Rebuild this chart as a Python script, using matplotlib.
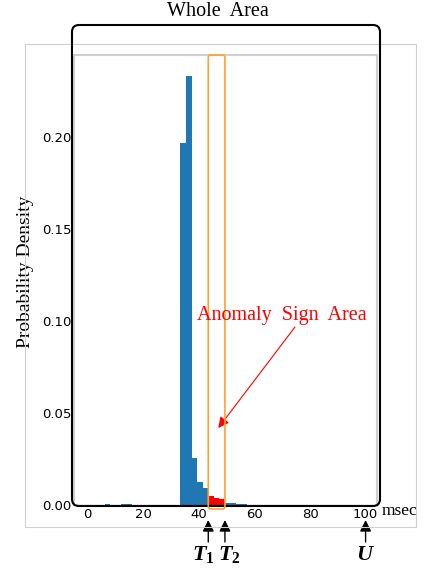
import matplotlib
matplotlib.use("Agg")
from matplotlib import pyplot as plt
from matplotlib.patches import FancyBboxPatch, Rectangle

plt.rcParams['mathtext.fontset'] = 'custom'
plt.rcParams['mathtext.it'] = 'Liberation Serif:italic:bold'
plt.rcParams['mathtext.rm'] = 'Liberation Serif:bold'

# histogram bins (left edge, msec) and probability density
BIN_WIDTH = 2.0
bin_left = [6.2, 12.0, 14.0, 33.4, 35.4, 37.4, 39.4, 41.4, 43.4, 45.4, 47.4,
            49.4, 51.4, 53.4, 55.4]
density = [0.0005, 0.0006, 0.0008, 0.197, 0.233, 0.0255, 0.0127, 0.009,
           0.0049, 0.004, 0.003, 0.0011, 0.001, 0.0006, 0.0004]

T1, T2, U = 43.4, 49.4, 100.0
marker_labels = [r'$T_1$', r'$T_2$', r'$U$']
label_shift = [-4.5, 4.5, -0.5]   # px offset of label vs arrow

xticks = [0, 20, 40, 60, 80, 100]
yticks = [0.0, 0.05, 0.10, 0.15, 0.20]

W, H = 425, 571
fig = plt.figure(figsize=(W / 100, H / 100), dpi=100)
ax = fig.add_axes([74 / W, (H - 505) / H, 303 / W, 450 / H])

colors = ['red' if T1 - 0.01 <= x < T2 - 0.01 else '#1f77b4' for x in bin_left]
ax.bar(bin_left, density, width=BIN_WIDTH, align='edge', color=colors, linewidth=0)

ax.set_xlim(-4.9, 104.1)
ax.set_ylim(0, 0.2446)
ax.set_xticks(xticks)
ax.set_yticks(yticks)
ax.set_yticklabels(['%.2f' % v for v in yticks])
ax.tick_params(length=0, labelsize=9.5, pad=2)
for s in ['top', 'right', 'left']:
    ax.spines[s].set_color('#d0d0d0')
    ax.spines[s].set_linewidth(1.5)
ax.spines['bottom'].set_color('black')

ax.set_ylabel('Probability Density', family='Liberation Serif', fontsize=14)
ax.yaxis.set_label_coords((34 - 74) / 303, 0.518)

# outer light frame and black rounded "whole area" box (pixel coords)
fig.patches.append(Rectangle((25, H - 527), 391, 483, transform=None,
                             fill=False, edgecolor='#cfcfcf', linewidth=0.8))
fig.patches.append(FancyBboxPatch((72, H - 506), 308, 481, transform=None,
                                  boxstyle='round,pad=0,rounding_size=7',
                                  fill=False, edgecolor='black', linewidth=1.5))
fig.text(218 / W, 1 - 16 / H, 'Whole  Area', family='Liberation Serif',
         fontsize=14.5, ha='center', va='baseline')

# orange box around anomaly sign area
x1 = ax.transData.transform((T1, 0))[0]
x2 = ax.transData.transform((T2, 0))[0]
fig.patches.append(FancyBboxPatch((x1, H - 509), x2 - x1, 454, transform=None,
                                  boxstyle='round,pad=0,rounding_size=2.5',
                                  fill=False, edgecolor='#ffa033', linewidth=1.2))

fig.text(196.7 / W, 1 - 320 / H, 'Anomaly  Sign  Area', family='Liberation Serif',
         fontsize=14.5, color='red', ha='left', va='baseline')
ax.annotate('', xy=(218.3, H - 428), xycoords='figure pixels',
            xytext=(295, H - 327), textcoords='figure pixels',
            arrowprops=dict(arrowstyle='-|>', color='red', lw=0.8,
                            mutation_scale=16, shrinkA=0, shrinkB=0))

fig.text(382 / W, 1 - 511 / H, 'msec', family='Liberation Serif',
         fontsize=12.5, ha='left', va='center')

for xv, lab, dx in zip([T1, T2, U], marker_labels, label_shift):
    ax.annotate('', xy=(xv, H - 520), xycoords=('data', 'figure pixels'),
                xytext=(xv, H - 542), textcoords=('data', 'figure pixels'),
                arrowprops=dict(arrowstyle='-|>', color='black', lw=1,
                                mutation_scale=17, shrinkA=0, shrinkB=0),
                annotation_clip=False)
    ax.annotate(lab, xy=(xv, H - 560), xycoords=('data', 'figure pixels'),
                xytext=(dx, 0), textcoords='offset pixels',
                fontsize=16, ha='center', va='baseline', annotation_clip=False)

fig.savefig('out.png', dpi=100)
